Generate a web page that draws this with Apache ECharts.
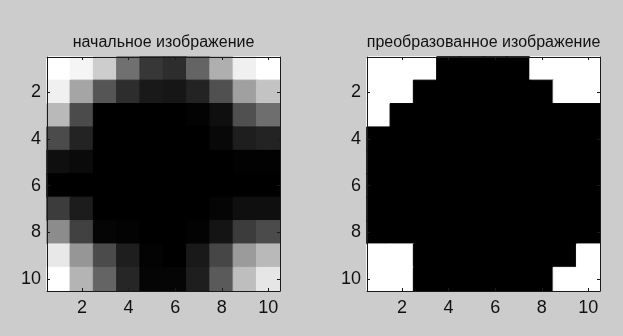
<!DOCTYPE html>
<html>
<head>
<meta charset="utf-8">
<script src="https://cdn.jsdelivr.net/npm/echarts@6/dist/echarts.min.js"></script>
<style>
html,body{margin:0;padding:0;background:#cccccc;}
#c{width:623px;height:336px;}
</style>
</head>
<body>
<div id="c"></div>
<script>
// categories (rows and columns 1..10)
const cols = ['1','2','3','4','5','6','7','8','9','10'];
const rows = ['1','2','3','4','5','6','7','8','9','10'];
const tickLabels = ['2','4','6','8','10'];
const titleLeft = 'начальное изображение';
const titleRight = 'преобразованное изображение';

// original image, grey level 0..255, rows top to bottom
const original = [
  [255,245,205,112, 55, 45,100,175,240,255],
  [240,165, 85, 45, 25, 22, 35, 80,160,195],
  [185, 75,  0,  0,  0,  0,  3, 15, 80,110],
  [ 75, 35,  0,  0,  0,  0,  0,  8, 30, 35],
  [ 15, 10,  0,  0,  0,  0,  0,  0,  2,  2],
  [  0,  0,  0,  0,  0,  0,  0,  0,  0,  0],
  [ 60, 28,  0,  0,  0,  0,  0,  5, 15, 15],
  [140, 65,  5,  3,  0,  0,  3, 20, 60, 75],
  [232,150, 75, 30,  3,  0, 25, 70,155,185],
  [255,180,100, 38,  5,  5, 30, 90,190,230]
];
// transformed (binary) image, 0 black / 1 white
const binary = [
  [1,1,1,0,0,0,0,1,1,1],
  [1,1,0,0,0,0,0,0,1,1],
  [1,0,0,0,0,0,0,0,0,0],
  [0,0,0,0,0,0,0,0,0,0],
  [0,0,0,0,0,0,0,0,0,0],
  [0,0,0,0,0,0,0,0,0,0],
  [0,0,0,0,0,0,0,0,0,0],
  [0,0,0,0,0,0,0,0,0,0],
  [1,1,0,0,0,0,0,0,0,1],
  [1,1,0,0,0,0,0,0,1,1]
];

function grey(v){ const g=Math.round(Math.max(0,Math.min(1,v))*255); return 'rgb('+g+','+g+','+g+')'; }
function toData(m, scale){
  const out=[];
  for(let r=0;r<m.length;r++) for(let c=0;c<m[r].length;c++){
    const v=m[r][c]*scale;
    const col=grey(v);
    out.push({value:[c,r,v],itemStyle:{color:col,borderColor:col,borderWidth:1}});
  }
  return out;
}

const FONT = '"Liberation Sans",Arial,sans-serif';
const AX = '#1a1a1a';
const tickShow = (i,v)=> tickLabels.indexOf(String(v))>=0;

function axesFor(gi){
  const common = {
    type:'category', gridIndex:gi, boundaryGap:true,
    axisLine:{show:true,onZero:false,lineStyle:{color:AX,width:1}},
    axisTick:{show:true,inside:true,length:3,alignWithLabel:true,interval:tickShow,lineStyle:{color:AX}},
    splitLine:{show:false}, z:5
  };
  const x = [
    Object.assign({},common,{data:cols,position:'bottom',
      axisLabel:{show:true,interval:tickShow,margin:8,color:'#111',fontFamily:FONT,fontSize:18}}),
    Object.assign({},common,{data:cols,position:'top',axisLabel:{show:false}})
  ];
  const y = [
    Object.assign({},common,{data:rows,position:'left',inverse:true,
      axisLabel:{show:true,interval:tickShow,margin:6,color:'#111',fontFamily:FONT,fontSize:18}}),
    Object.assign({},common,{data:rows,position:'right',inverse:true,axisLabel:{show:false}})
  ];
  return {x,y};
}
const a0=axesFor(0), a1=axesFor(1);

const chart = echarts.init(document.getElementById('c'),null,{renderer:'canvas'});
chart.setOption({
  backgroundColor:'#cccccc',
  animation:false,
  grid:[
    {left:47,top:57,width:233,height:234,containLabel:false},
    {left:367,top:57,width:233,height:234,containLabel:false}
  ],
  xAxis:[a0.x[0],a0.x[1],a1.x[0],a1.x[1]],
  yAxis:[a0.y[0],a0.y[1],a1.y[0],a1.y[1]],
  series:[
    {type:'heatmap',xAxisIndex:0,yAxisIndex:0,data:toData(original,1/255),emphasis:{disabled:true},z:1},
    {type:'heatmap',xAxisIndex:2,yAxisIndex:2,data:toData(binary,1),emphasis:{disabled:true},z:1}
  ],
  graphic:[
    {type:'text',x:163.5,y:51,style:{text:titleLeft,textAlign:'center',textVerticalAlign:'bottom',fill:'#111',font:'16px '+FONT}},
    {type:'text',x:483.5,y:51,style:{text:titleRight,textAlign:'center',textVerticalAlign:'bottom',fill:'#111',font:'16px '+FONT}}
  ]
});
</script>
</body>
</html>
